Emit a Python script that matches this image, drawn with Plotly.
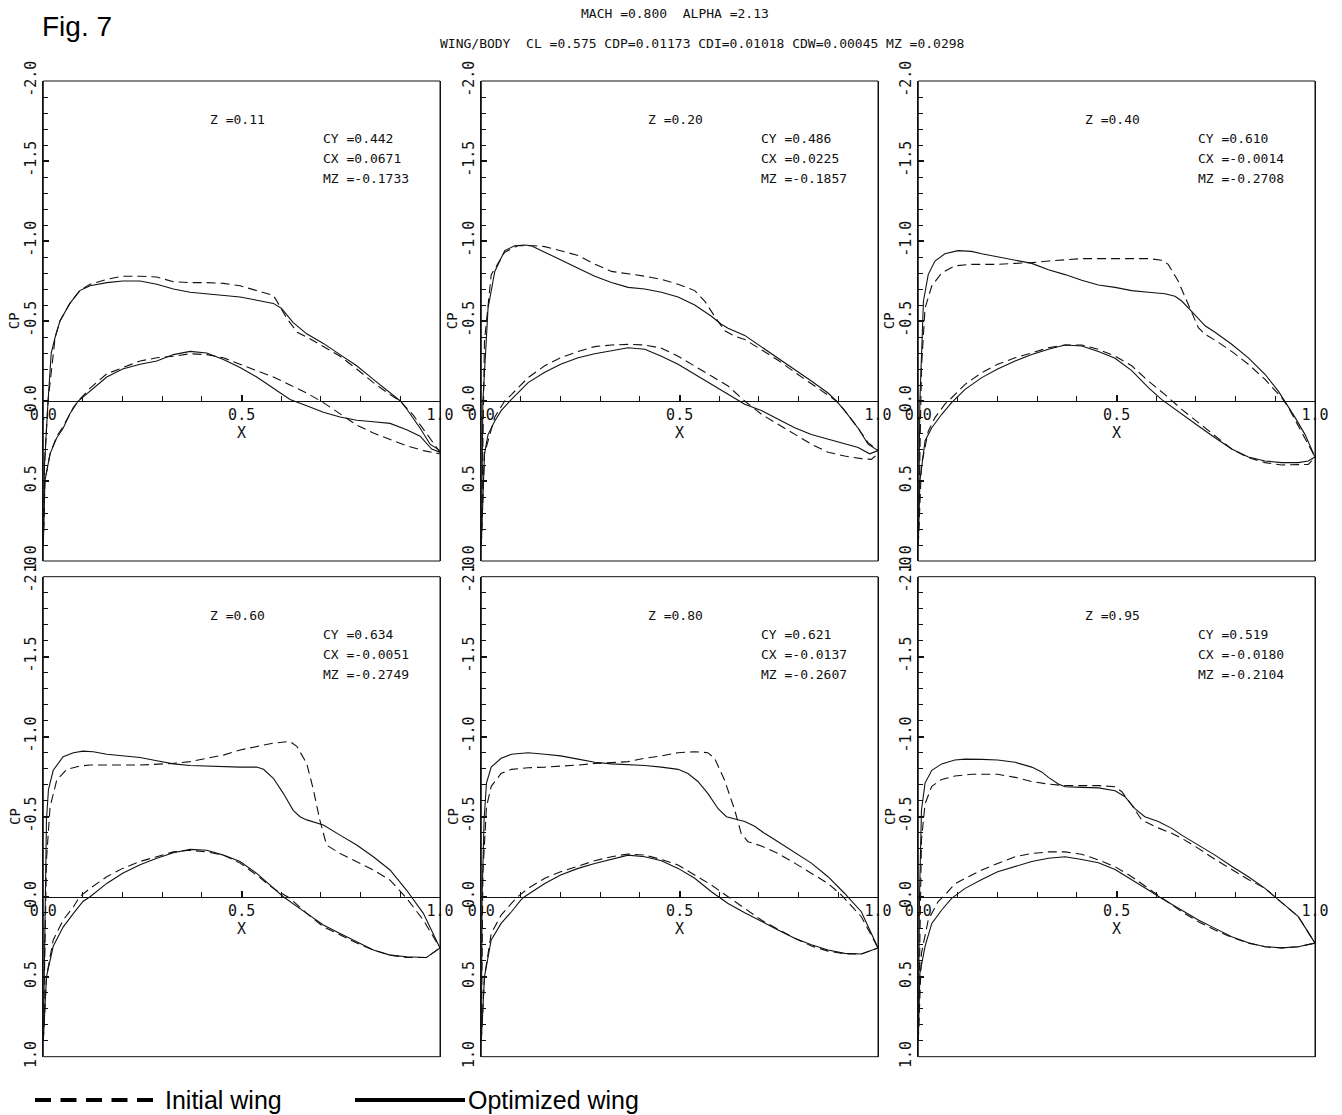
import plotly.graph_objects as go

# ---------------- data ----------------
panel_z = ["0.11", "0.20", "0.40", "0.60", "0.80", "0.95"]
panel_cy = ["0.442", "0.486", "0.610", "0.634", "0.621", "0.519"]
panel_cx = ["0.0671", "0.0225", "-0.0014", "-0.0051", "-0.0137", "-0.0180"]
panel_mz = ["-0.1733", "-0.1857", "-0.2708", "-0.2749", "-0.2607", "-0.2104"]

y_tickvals = [-2.0, -1.5, -1.0, -0.5, 0.0, 0.5, 1.0]
y_ticktext = ["-2.0", "-1.5", "-1.0", "-0.5", "0.0", "0.5", "1.0"]
x_tickvals = [0.0, 0.5, 1.0]
x_ticktext = ["0.0", "0.5", "1.0"]

# Panel 1 (Z=0.11)
p1_up_opt_x = [0, 0.003, 0.012, 0.02, 0.03, 0.042, 0.067, 0.092, 0.118, 0.16, 0.2, 0.244, 0.286, 0.328, 0.37, 0.412, 0.454, 0.496, 0.538, 0.58, 0.6, 0.63, 0.664, 0.706, 0.748, 0.79, 0.832, 0.874, 0.9, 0.916, 0.95, 0.975, 1.0]
p1_up_opt_cp = [0.9, 0.4, 0.0, -0.3, -0.4, -0.5, -0.61, -0.69, -0.72, -0.74, -0.75, -0.75, -0.73, -0.70, -0.68, -0.67, -0.66, -0.65, -0.63, -0.61, -0.58, -0.49, -0.42, -0.36, -0.29, -0.22, -0.135, -0.05, 0.0, 0.05, 0.17, 0.27, 0.31]
p1_up_ini_x = [0, 0.003, 0.012, 0.03, 0.042, 0.067, 0.092, 0.118, 0.16, 0.2, 0.244, 0.286, 0.328, 0.37, 0.412, 0.454, 0.496, 0.538, 0.58, 0.592, 0.613, 0.64, 0.664, 0.706, 0.748, 0.79, 0.832, 0.874, 0.9, 0.933, 0.966, 1.0]
p1_up_ini_cp = [0.9, 0.4, 0.0, -0.4, -0.5, -0.61, -0.69, -0.73, -0.76, -0.78, -0.78, -0.775, -0.745, -0.74, -0.74, -0.735, -0.72, -0.69, -0.66, -0.61, -0.52, -0.43, -0.40, -0.34, -0.28, -0.20, -0.115, -0.04, 0.0, 0.09, 0.2, 0.32]
p1_lo_opt_x = [0, 0.004, 0.017, 0.034, 0.05, 0.067, 0.088, 0.118, 0.16, 0.2, 0.244, 0.286, 0.328, 0.37, 0.412, 0.454, 0.496, 0.538, 0.58, 0.622, 0.664, 0.706, 0.748, 0.79, 0.832, 0.874, 0.916, 0.95, 0.979, 1.0]
p1_lo_opt_cp = [0.9, 0.5, 0.33, 0.23, 0.17, 0.08, 0.0, -0.06, -0.15, -0.2, -0.23, -0.25, -0.29, -0.31, -0.30, -0.26, -0.21, -0.15, -0.08, -0.01, 0.03, 0.07, 0.10, 0.12, 0.13, 0.14, 0.18, 0.22, 0.30, 0.32]
p1_lo_ini_x = [0, 0.004, 0.017, 0.034, 0.05, 0.076, 0.088, 0.118, 0.16, 0.2, 0.244, 0.286, 0.328, 0.37, 0.412, 0.454, 0.496, 0.538, 0.58, 0.622, 0.664, 0.706, 0.748, 0.79, 0.832, 0.874, 0.916, 0.958, 1.0]
p1_lo_ini_cp = [0.9, 0.5, 0.33, 0.22, 0.16, 0.04, 0.0, -0.08, -0.17, -0.21, -0.25, -0.27, -0.28, -0.295, -0.29, -0.27, -0.23, -0.19, -0.15, -0.10, -0.05, 0.01, 0.08, 0.15, 0.2, 0.24, 0.28, 0.31, 0.33]

# Panel 2 (Z=0.20)
p2_up_opt_x = [0, 0.004, 0.017, 0.034, 0.059, 0.084, 0.109, 0.126, 0.16, 0.2, 0.244, 0.286, 0.328, 0.37, 0.412, 0.454, 0.496, 0.538, 0.58, 0.605, 0.622, 0.664, 0.706, 0.748, 0.79, 0.832, 0.874, 0.895, 0.916, 0.95, 0.975, 1.0]
p2_up_opt_cp = [0.9, 0.0, -0.58, -0.81, -0.94, -0.97, -0.975, -0.97, -0.93, -0.88, -0.83, -0.78, -0.74, -0.71, -0.70, -0.68, -0.65, -0.60, -0.53, -0.48, -0.455, -0.41, -0.34, -0.27, -0.2, -0.125, -0.05, 0.0, 0.06, 0.17, 0.27, 0.31]
p2_up_ini_x = [0, 0.004, 0.008, 0.025, 0.059, 0.092, 0.134, 0.16, 0.2, 0.244, 0.286, 0.328, 0.37, 0.412, 0.454, 0.496, 0.538, 0.563, 0.588, 0.613, 0.639, 0.664, 0.706, 0.748, 0.79, 0.832, 0.874, 0.895, 0.916, 0.95, 0.975, 1.0]
p2_up_ini_cp = [0.9, 0.2, -0.375, -0.79, -0.93, -0.97, -0.97, -0.965, -0.94, -0.91, -0.855, -0.81, -0.795, -0.78, -0.76, -0.73, -0.69, -0.625, -0.53, -0.44, -0.405, -0.385, -0.32, -0.255, -0.18, -0.11, -0.04, 0.0, 0.06, 0.17, 0.26, 0.31]
p2_lo_opt_x = [0, 0.008, 0.017, 0.034, 0.05, 0.067, 0.076, 0.118, 0.16, 0.2, 0.244, 0.286, 0.328, 0.37, 0.412, 0.454, 0.496, 0.538, 0.58, 0.622, 0.664, 0.706, 0.748, 0.79, 0.832, 0.874, 0.916, 0.95, 0.979, 1.0]
p2_lo_opt_cp = [0.9, 0.33, 0.21, 0.125, 0.06, 0.01, -0.01, -0.115, -0.18, -0.23, -0.27, -0.295, -0.315, -0.333, -0.323, -0.28, -0.23, -0.167, -0.104, -0.04, 0.02, 0.06, 0.115, 0.167, 0.21, 0.24, 0.27, 0.29, 0.33, 0.31]
p2_lo_ini_x = [0, 0.008, 0.034, 0.059, 0.076, 0.118, 0.16, 0.2, 0.244, 0.286, 0.328, 0.37, 0.412, 0.454, 0.496, 0.538, 0.58, 0.622, 0.664, 0.706, 0.748, 0.79, 0.832, 0.874, 0.916, 0.958, 0.983, 1.0]
p2_lo_ini_cp = [0.9, 0.33, 0.10, 0.0, -0.04, -0.146, -0.22, -0.27, -0.31, -0.34, -0.35, -0.354, -0.35, -0.33, -0.28, -0.22, -0.156, -0.094, 0.0, 0.083, 0.146, 0.21, 0.27, 0.32, 0.344, 0.36, 0.365, 0.33]

# Panel 3 (Z=0.40)
p3_up_opt_x = [0, 0.004, 0.013, 0.025, 0.042, 0.067, 0.1, 0.134, 0.16, 0.2, 0.244, 0.286, 0.328, 0.37, 0.412, 0.454, 0.496, 0.538, 0.58, 0.622, 0.647, 0.664, 0.689, 0.723, 0.748, 0.79, 0.832, 0.874, 0.908, 0.924, 0.95, 0.975, 1.0]
p3_up_opt_cp = [0.9, 0.0, -0.625, -0.79, -0.875, -0.92, -0.94, -0.935, -0.92, -0.9, -0.88, -0.86, -0.82, -0.79, -0.755, -0.725, -0.71, -0.69, -0.68, -0.67, -0.655, -0.625, -0.56, -0.47, -0.43, -0.355, -0.27, -0.167, -0.06, 0.0, 0.104, 0.21, 0.35]
p3_up_ini_x = [0, 0.008, 0.017, 0.034, 0.059, 0.092, 0.134, 0.2, 0.244, 0.286, 0.328, 0.37, 0.412, 0.496, 0.58, 0.613, 0.63, 0.655, 0.68, 0.706, 0.723, 0.748, 0.79, 0.832, 0.874, 0.916, 0.933, 0.966, 1.0]
p3_up_ini_cp = [0.9, -0.21, -0.58, -0.72, -0.8, -0.845, -0.854, -0.854, -0.86, -0.865, -0.875, -0.883, -0.89, -0.89, -0.89, -0.88, -0.854, -0.75, -0.604, -0.458, -0.417, -0.38, -0.31, -0.23, -0.135, -0.02, 0.04, 0.19, 0.35]
p3_lo_opt_x = [0, 0.004, 0.017, 0.034, 0.059, 0.084, 0.118, 0.16, 0.2, 0.244, 0.286, 0.328, 0.37, 0.412, 0.454, 0.496, 0.538, 0.58, 0.613, 0.664, 0.706, 0.748, 0.79, 0.832, 0.874, 0.916, 0.958, 0.983, 1.0]
p3_lo_opt_cp = [0.9, 0.5, 0.25, 0.167, 0.083, 0.01, -0.073, -0.146, -0.2, -0.25, -0.29, -0.323, -0.35, -0.344, -0.31, -0.267, -0.19, -0.083, -0.01, 0.083, 0.156, 0.23, 0.30, 0.35, 0.375, 0.385, 0.385, 0.375, 0.35]
p3_lo_ini_x = [0, 0.008, 0.025, 0.042, 0.067, 0.076, 0.118, 0.16, 0.2, 0.244, 0.286, 0.328, 0.37, 0.412, 0.454, 0.496, 0.538, 0.58, 0.622, 0.664, 0.706, 0.748, 0.79, 0.832, 0.874, 0.916, 0.958, 0.983, 1.0]
p3_lo_ini_cp = [0.9, 0.4, 0.19, 0.104, 0.02, 0.0, -0.104, -0.177, -0.23, -0.27, -0.30, -0.333, -0.35, -0.35, -0.323, -0.28, -0.22, -0.125, -0.04, 0.052, 0.135, 0.22, 0.30, 0.354, 0.385, 0.4, 0.4, 0.396, 0.354]

# Panel 4 (Z=0.60)
p4_up_opt_x = [0, 0.004, 0.008, 0.013, 0.025, 0.05, 0.076, 0.1, 0.126, 0.16, 0.2, 0.244, 0.286, 0.328, 0.37, 0.412, 0.454, 0.496, 0.538, 0.555, 0.58, 0.605, 0.63, 0.647, 0.664, 0.706, 0.748, 0.79, 0.832, 0.874, 0.916, 0.933, 0.958, 1.0]
p4_up_opt_cp = [0.9, 0.0, -0.48, -0.67, -0.79, -0.875, -0.9, -0.91, -0.906, -0.89, -0.88, -0.87, -0.85, -0.83, -0.82, -0.817, -0.81, -0.81, -0.81, -0.796, -0.74, -0.646, -0.54, -0.5, -0.48, -0.448, -0.385, -0.323, -0.25, -0.167, -0.04, 0.02, 0.104, 0.32]
p4_up_ini_x = [0, 0.004, 0.008, 0.017, 0.034, 0.059, 0.092, 0.118, 0.16, 0.244, 0.328, 0.37, 0.412, 0.454, 0.496, 0.538, 0.58, 0.622, 0.639, 0.664, 0.681, 0.697, 0.714, 0.748, 0.79, 0.832, 0.874, 0.899, 0.916, 0.958, 1.0]
p4_up_ini_cp = [0.9, 0.3, -0.23, -0.56, -0.73, -0.796, -0.817, -0.823, -0.823, -0.823, -0.833, -0.844, -0.865, -0.885, -0.917, -0.94, -0.96, -0.97, -0.94, -0.833, -0.667, -0.48, -0.323, -0.27, -0.22, -0.167, -0.104, -0.04, 0.01, 0.146, 0.32]
p4_lo_opt_x = [0, 0.008, 0.025, 0.05, 0.076, 0.1, 0.118, 0.16, 0.2, 0.244, 0.286, 0.328, 0.37, 0.412, 0.454, 0.496, 0.538, 0.58, 0.605, 0.664, 0.706, 0.748, 0.79, 0.832, 0.874, 0.916, 0.966, 1.0]
p4_lo_opt_cp = [0.9, 0.5, 0.31, 0.19, 0.104, 0.03, 0.0, -0.083, -0.146, -0.2, -0.24, -0.275, -0.296, -0.29, -0.26, -0.22, -0.146, -0.052, 0.0, 0.104, 0.177, 0.23, 0.28, 0.333, 0.365, 0.375, 0.38, 0.32]
p4_lo_ini_x = [0, 0.008, 0.025, 0.05, 0.076, 0.092, 0.118, 0.16, 0.2, 0.244, 0.286, 0.328, 0.37, 0.412, 0.454, 0.496, 0.538, 0.58, 0.622, 0.664, 0.706, 0.748, 0.79, 0.832, 0.874, 0.916, 0.966, 1.0]
p4_lo_ini_cp = [0.9, 0.5, 0.27, 0.146, 0.063, 0.0, -0.052, -0.125, -0.177, -0.22, -0.25, -0.28, -0.29, -0.28, -0.26, -0.21, -0.135, -0.052, 0.01, 0.104, 0.1875, 0.24, 0.29, 0.333, 0.365, 0.38, 0.38, 0.32]

# Panel 5 (Z=0.80)
p5_up_opt_x = [0, 0.002, 0.007, 0.013, 0.025, 0.05, 0.076, 0.118, 0.16, 0.2, 0.244, 0.286, 0.328, 0.37, 0.412, 0.454, 0.496, 0.521, 0.546, 0.571, 0.597, 0.618, 0.647, 0.664, 0.689, 0.714, 0.748, 0.79, 0.832, 0.874, 0.916, 0.958, 1.0]
p5_up_opt_cp = [0.9, 0.0, -0.48, -0.71, -0.81, -0.865, -0.89, -0.9, -0.89, -0.88, -0.86, -0.84, -0.83, -0.825, -0.82, -0.81, -0.796, -0.77, -0.72, -0.646, -0.55, -0.5, -0.483, -0.47, -0.44, -0.396, -0.344, -0.275, -0.21, -0.125, -0.02, 0.094, 0.32]
p5_up_ini_x = [0, 0.004, 0.013, 0.025, 0.05, 0.076, 0.118, 0.16, 0.244, 0.286, 0.328, 0.37, 0.412, 0.454, 0.496, 0.538, 0.571, 0.588, 0.613, 0.639, 0.655, 0.672, 0.706, 0.748, 0.79, 0.832, 0.874, 0.908, 0.958, 1.0]
p5_up_ini_cp = [0.9, -0.146, -0.56, -0.69, -0.77, -0.796, -0.806, -0.81, -0.823, -0.833, -0.838, -0.844, -0.865, -0.88, -0.9, -0.906, -0.9, -0.865, -0.73, -0.54, -0.396, -0.344, -0.317, -0.27, -0.21, -0.146, -0.083, -0.01, 0.125, 0.32]
p5_lo_opt_x = [0, 0.008, 0.025, 0.05, 0.076, 0.1, 0.109, 0.16, 0.2, 0.244, 0.286, 0.328, 0.37, 0.412, 0.454, 0.496, 0.538, 0.58, 0.597, 0.622, 0.664, 0.706, 0.748, 0.79, 0.832, 0.874, 0.916, 0.958, 1.0]
p5_lo_opt_cp = [0.9, 0.5, 0.27, 0.167, 0.094, 0.02, 0.0, -0.083, -0.135, -0.177, -0.208, -0.233, -0.26, -0.25, -0.225, -0.177, -0.115, -0.031, 0.0, 0.042, 0.1, 0.156, 0.208, 0.26, 0.3, 0.333, 0.354, 0.358, 0.32]
p5_lo_ini_x = [0, 0.008, 0.025, 0.05, 0.076, 0.092, 0.118, 0.16, 0.2, 0.244, 0.286, 0.328, 0.37, 0.412, 0.454, 0.496, 0.538, 0.58, 0.622, 0.664, 0.706, 0.748, 0.79, 0.832, 0.874, 0.916, 0.958, 1.0]
p5_lo_ini_cp = [0.9, 0.5, 0.23, 0.115, 0.042, 0.0, -0.052, -0.115, -0.156, -0.19, -0.225, -0.25, -0.267, -0.26, -0.233, -0.198, -0.135, -0.073, 0.0, 0.073, 0.146, 0.204, 0.26, 0.308, 0.34, 0.358, 0.358, 0.32]

# Panel 6 (Z=0.95)
p6_up_opt_x = [0, 0.003, 0.008, 0.017, 0.034, 0.059, 0.092, 0.118, 0.16, 0.2, 0.244, 0.286, 0.311, 0.328, 0.353, 0.37, 0.412, 0.454, 0.496, 0.521, 0.546, 0.571, 0.605, 0.639, 0.664, 0.706, 0.748, 0.79, 0.832, 0.874, 0.899, 0.958, 1.0]
p6_up_opt_cp = [0.9, 0.0, -0.54, -0.71, -0.79, -0.83, -0.854, -0.86, -0.858, -0.854, -0.84, -0.81, -0.78, -0.746, -0.704, -0.6875, -0.683, -0.68, -0.6625, -0.625, -0.55, -0.5, -0.47, -0.427, -0.385, -0.323, -0.26, -0.19, -0.125, -0.052, 0.0, 0.125, 0.29]
p6_up_ini_x = [0, 0.004, 0.008, 0.017, 0.034, 0.059, 0.092, 0.134, 0.2, 0.244, 0.286, 0.328, 0.37, 0.412, 0.454, 0.496, 0.513, 0.538, 0.563, 0.597, 0.639, 0.664, 0.706, 0.748, 0.79, 0.832, 0.874, 0.899, 0.958, 1.0]
p6_up_ini_cp = [0.9, 0.1, -0.354, -0.58, -0.69, -0.733, -0.754, -0.765, -0.765, -0.746, -0.72, -0.704, -0.694, -0.694, -0.694, -0.6875, -0.656, -0.573, -0.48, -0.4375, -0.396, -0.365, -0.302, -0.233, -0.17, -0.108, -0.052, 0.0, 0.125, 0.29]
p6_lo_opt_x = [0, 0.004, 0.017, 0.034, 0.059, 0.084, 0.118, 0.16, 0.2, 0.244, 0.286, 0.328, 0.37, 0.412, 0.454, 0.496, 0.538, 0.58, 0.613, 0.664, 0.706, 0.748, 0.79, 0.832, 0.874, 0.916, 0.958, 1.0]
p6_lo_opt_cp = [0.9, 0.48, 0.31, 0.167, 0.083, 0.01, -0.052, -0.108, -0.156, -0.19, -0.22, -0.24, -0.25, -0.233, -0.2125, -0.17, -0.108, -0.042, 0.01, 0.083, 0.146, 0.198, 0.25, 0.2875, 0.3125, 0.32, 0.3125, 0.29]
p6_lo_ini_x = [0, 0.008, 0.025, 0.05, 0.067, 0.092, 0.118, 0.16, 0.2, 0.244, 0.286, 0.328, 0.37, 0.412, 0.454, 0.496, 0.538, 0.58, 0.622, 0.664, 0.706, 0.748, 0.79, 0.832, 0.874, 0.916, 0.958, 1.0]
p6_lo_ini_cp = [0.9, 0.354, 0.146, 0.03, -0.01, -0.08, -0.115, -0.167, -0.208, -0.25, -0.27, -0.28, -0.28, -0.265, -0.23, -0.1875, -0.125, -0.052, 0.02, 0.094, 0.156, 0.208, 0.254, 0.29, 0.3125, 0.32, 0.3125, 0.29]

panels = [
    (p1_up_ini_x, p1_up_ini_cp, p1_lo_ini_x, p1_lo_ini_cp, p1_up_opt_x, p1_up_opt_cp, p1_lo_opt_x, p1_lo_opt_cp),
    (p2_up_ini_x, p2_up_ini_cp, p2_lo_ini_x, p2_lo_ini_cp, p2_up_opt_x, p2_up_opt_cp, p2_lo_opt_x, p2_lo_opt_cp),
    (p3_up_ini_x, p3_up_ini_cp, p3_lo_ini_x, p3_lo_ini_cp, p3_up_opt_x, p3_up_opt_cp, p3_lo_opt_x, p3_lo_opt_cp),
    (p4_up_ini_x, p4_up_ini_cp, p4_lo_ini_x, p4_lo_ini_cp, p4_up_opt_x, p4_up_opt_cp, p4_lo_opt_x, p4_lo_opt_cp),
    (p5_up_ini_x, p5_up_ini_cp, p5_lo_ini_x, p5_lo_ini_cp, p5_up_opt_x, p5_up_opt_cp, p5_lo_opt_x, p5_lo_opt_cp),
    (p6_up_ini_x, p6_up_ini_cp, p6_lo_ini_x, p6_lo_ini_cp, p6_up_opt_x, p6_up_opt_cp, p6_lo_opt_x, p6_lo_opt_cp),
]

# ---------------- layout ----------------
W, H = 1342, 1115
col_px = [(43.3, 440.0), (481.3, 878.0), (918.3, 1315.0)]
row_px = [(81.0, 401.0, 561.0), (576.7, 896.7, 1056.7)]  # top, zero-line, bottom

MONO = "DejaVu Sans Mono"
SANS = "Liberation Sans, Arial"
INK = "#111111"

fig = go.Figure()
layout = dict(
    width=W, height=H, margin=dict(l=0, r=0, t=0, b=0, autoexpand=False),
    paper_bgcolor="white", plot_bgcolor="rgba(0,0,0,0)", showlegend=False,
)
shapes = []
annotations = []

for i, pdata in enumerate(panels):
    n = i + 1
    r, c = divmod(i, 3)
    x0, x1 = col_px[c]
    top, zero, bot = row_px[r]
    xa = "x" if n == 1 else f"x{n}"
    ya = "y" if n == 1 else f"y{n}"
    xkey = "xaxis" if n == 1 else f"xaxis{n}"
    ykey = "yaxis" if n == 1 else f"yaxis{n}"

    ux, ucp, lx, lcp, uox, uocp, lox, locp = pdata
    for xs, ys, dash in [(ux, ucp, "9px,5px"), (lx, lcp, "9px,5px"),
                         (uox, uocp, "solid"), (lox, locp, "solid")]:
        fig.add_trace(go.Scatter(x=xs, y=ys, mode="lines", xaxis=xa, yaxis=ya,
                                 line=dict(color=INK, width=1.1, dash=dash),
                                 hoverinfo="skip", showlegend=False))

    layout[xkey] = dict(
        domain=[x0 / W, x1 / W], range=[0, 1], anchor="free",
        position=1 - zero / H, automargin=False,
        showline=True, linecolor=INK, linewidth=1, showgrid=False, zeroline=False,
        tickmode="array", tickvals=x_tickvals, ticktext=x_ticktext,
        ticks="inside", ticklen=6, tickwidth=1.5, tickcolor=INK,
        minor=dict(dtick=0.1, tick0=0, ticks="inside", ticklen=5, tickcolor=INK, tickwidth=1),
        tickfont=dict(family=MONO, size=15, color=INK),
        fixedrange=True,
    )
    layout[ykey] = dict(
        domain=[1 - bot / H, 1 - top / H], range=[1, -2], anchor=xa, automargin=False,
        showline=True, linecolor=INK, linewidth=1, showgrid=False, zeroline=False,
        mirror=True,
        tickmode="array", tickvals=y_tickvals, ticktext=y_ticktext,
        ticks="inside", ticklen=6, tickwidth=1.5, tickcolor=INK, tickangle=-90,
        minor=dict(dtick=0.1, tick0=0, ticks="inside", ticklen=5, tickcolor=INK, tickwidth=1),
        tickfont=dict(family=MONO, size=15, color=INK),
        fixedrange=True,
    )
    # frame of the panel
    shapes.append(dict(type="rect", xref=f"{xa} domain", yref=f"{ya} domain",
                       x0=0, x1=1, y0=0, y1=1, line=dict(color=INK, width=1),
                       fillcolor="rgba(0,0,0,0)", layer="above"))
    # axis titles
    annotations.append(dict(x=(x0 - 29) / W, y=1 - (top + bot) / 2 / H, xref="paper", yref="paper",
                            text="CP", textangle=-90, showarrow=False,
                            xanchor="center", yanchor="middle",
                            font=dict(family=MONO, size=14, color=INK)))
    annotations.append(dict(x=(x0 + x1) / 2 / W, y=1 - (zero + 32) / H, xref="paper", yref="paper",
                            text="X", showarrow=False, xanchor="center", yanchor="middle",
                            font=dict(family=MONO, size=15, color=INK)))
    # panel annotations
    annotations.append(dict(x=0.416, y=-1.76, xref=xa, yref=ya, text=f"Z ={panel_z[i]}",
                            showarrow=False, xanchor="left", yanchor="middle",
                            font=dict(family=MONO, size=13, color=INK)))
    for k, (lab, val) in enumerate([("CY", panel_cy[i]), ("CX", panel_cx[i]), ("MZ", panel_mz[i])]):
        annotations.append(dict(x=0.70, y=-1.64 + 0.125 * k, xref=xa, yref=ya,
                                text=f"{lab} ={val}", showarrow=False,
                                xanchor="left", yanchor="middle",
                                font=dict(family=MONO, size=13, color=INK)))

# titles
annotations.append(dict(x=675 / W, y=1 - 14 / H, xref="paper", yref="paper",
                        text="MACH =0.800  ALPHA =2.13", showarrow=False,
                        xanchor="center", yanchor="middle",
                        font=dict(family=MONO, size=13, color=INK)))
annotations.append(dict(x=702 / W, y=1 - 43 / H, xref="paper", yref="paper",
                        text="WING/BODY  CL =0.575 CDP=0.01173 CDI=0.01018 CDW=0.00045 MZ =0.0298",
                        showarrow=False, xanchor="center", yanchor="middle",
                        font=dict(family=MONO, size=13, color=INK)))
annotations.append(dict(x=40 / W, y=1 - 26 / H, xref="paper", yref="paper",
                        text="Fig. 7", showarrow=False, xanchor="left", yanchor="middle",
                        font=dict(family=SANS, size=28, color="black")))

# legend (drawn manually)
ly = 1 - 1100 / H
shapes.append(dict(type="line", xref="paper", yref="paper", x0=35 / W, x1=155 / W, y0=ly, y1=ly,
                   line=dict(color="black", width=4, dash="16px,9.5px")))
shapes.append(dict(type="line", xref="paper", yref="paper", x0=355 / W, x1=465 / W, y0=ly, y1=ly,
                   line=dict(color="black", width=4)))
annotations.append(dict(x=163 / W, y=ly, xref="paper", yref="paper", text="Initial wing",
                        showarrow=False, xanchor="left", yanchor="middle",
                        font=dict(family=SANS, size=25, color="black")))
annotations.append(dict(x=466 / W, y=ly, xref="paper", yref="paper", text="Optimized wing",
                        showarrow=False, xanchor="left", yanchor="middle",
                        font=dict(family=SANS, size=25, color="black")))

layout["shapes"] = shapes
layout["annotations"] = annotations
fig.update_layout(**layout)
fig.write_html("out.html")
